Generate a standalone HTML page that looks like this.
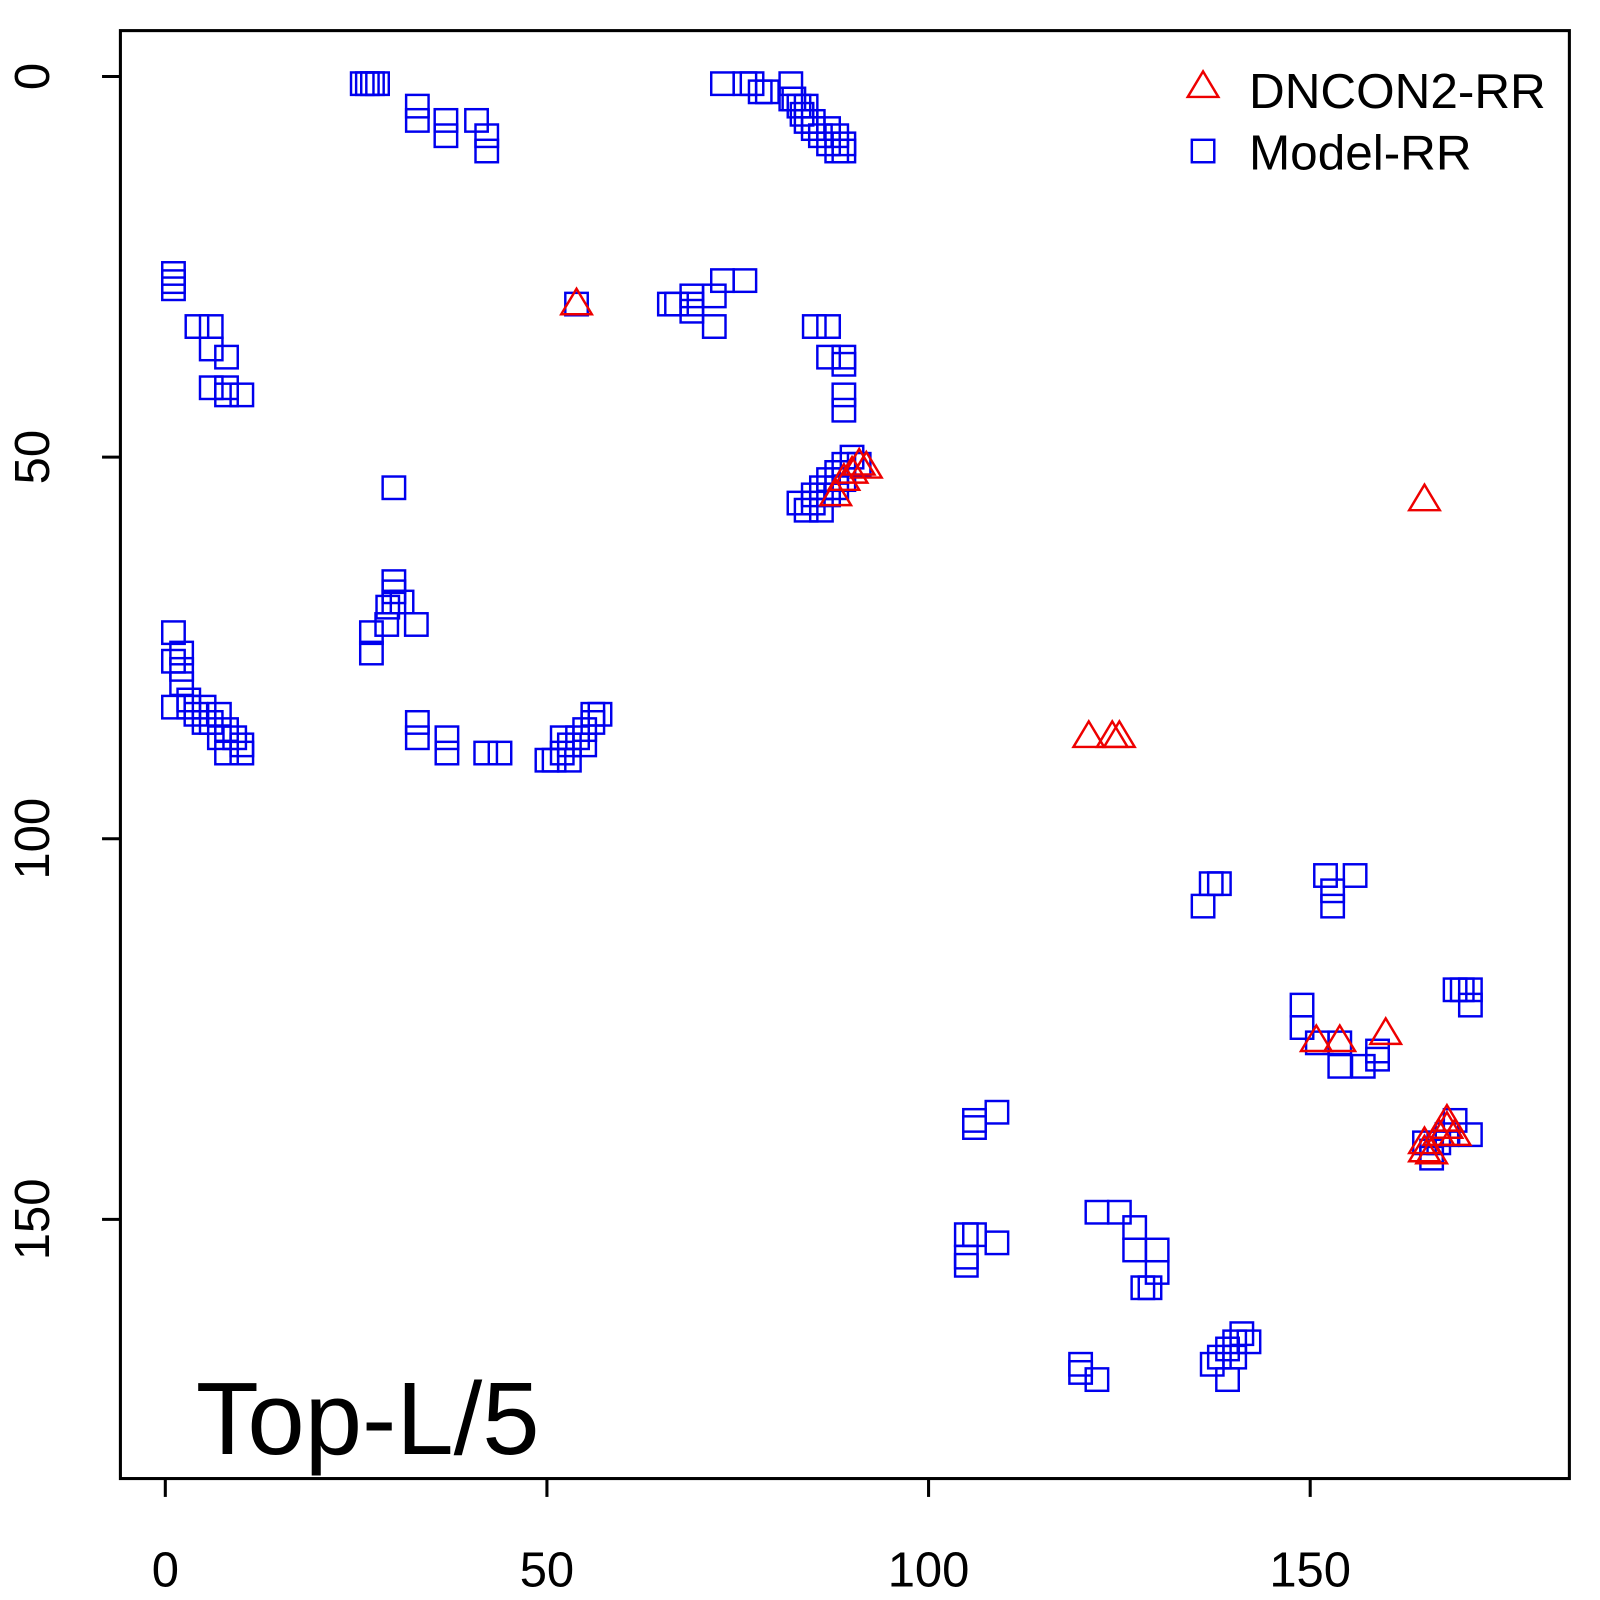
<!DOCTYPE html>
<html><head><meta charset="utf-8"><style>body{margin:0;background:#fff}svg{display:block}</style></head><body>
<svg width="1600" height="1600" xmlns="http://www.w3.org/2000/svg" font-family="Liberation Sans, sans-serif">
<g transform="scale(1.0204)">
<rect x="118" y="30" width="1420" height="1419" fill="none" stroke="#000" stroke-width="3"/>
<g stroke="#000" stroke-width="3">
<line x1="162" y1="1449" x2="162" y2="1467"/><line x1="536" y1="1449" x2="536" y2="1467"/><line x1="910" y1="1449" x2="910" y2="1467"/><line x1="1284" y1="1449" x2="1284" y2="1467"/>
<line x1="118" y1="75" x2="100" y2="75"/><line x1="118" y1="448" x2="100" y2="448"/><line x1="118" y1="822" x2="100" y2="822"/><line x1="118" y1="1195" x2="100" y2="1195"/>
</g>
<g font-size="48" text-anchor="middle">
<text x="162" y="1555">0</text><text x="536" y="1555">50</text><text x="910" y="1555">100</text><text x="1284" y="1555">150</text>
<text transform="translate(48,75) rotate(-90)">0</text>
<text transform="translate(48,448) rotate(-90)">50</text>
<text transform="translate(48,822) rotate(-90)">100</text>
<text transform="translate(48,1195) rotate(-90)">150</text>
</g>
<text x="192" y="1425" font-size="101">Top-L/5</text>
<text x="1224" y="106" font-size="48.5">DNCON2-RR</text>
<text x="1224" y="166" font-size="48.5">Model-RR</text>
<g id="sq" fill="none" stroke="#0000ee" stroke-width="2.4"></g>
<g id="tr" fill="none" stroke="#ee0000" stroke-width="2.4"></g>
</g>
</svg>
<script>
var S=[[1179,148],[355,82],[360,82],[365,82],[370,82],[409,104],[409,118],[437,118],[437,133],[467,118],[477,133],[477,148],
[708,82],[730,82],[737,82],[745,90],[752,90],[775,82],[778,97],[783,104],[786,112],[790,119],[797,126],[804,133],[812,141],[820,148],[827,141],[827,148],[775,97],[790,104],[797,119],[812,126],[820,133],
[170,268],[170,276],[170,283],[193,320],[207,320],[207,342],[222,350],[207,380],[222,387],[237,387],[222,380],
[565,298],[656,298],[663,298],[678,298],[678,305],[700,290],[700,320],[708,275],[730,275],[678,290],
[798,320],[812,320],[812,350],[827,350],[827,357],[827,387],[827,402],
[783,493],[790,500],[797,485],[805,478],[805,500],[812,470],[820,463],[827,455],[835,448],[842,455],[827,470],[812,485],[797,493],[820,478],
[386,478],
[170,620],[170,648],[178,640],[178,656],[178,670],[170,693],[185,686],[192,700],[200,693],[207,708],[215,700],[222,715],[230,723],[237,730],[237,738],[222,738],[215,723],[200,708],[185,693],
[364,620],[364,640],[386,570],[386,580],[386,590],[380,595],[394,590],[379,612],[408,612],
[409,708],[409,723],[438,723],[438,738],[476,738],[490,738],
[536,745],[543,745],[551,738],[558,730],[566,723],[573,715],[581,708],[588,700],[558,745],[551,723],[573,730],[581,700],
[1179,888],[1187,866],[1195,866],[1299,858],[1306,873],[1306,888],[1328,858],[1276,985],[1276,1007],[1291,1022],[1313,1022],[1313,1045],[1336,1045],[1350,1030],[1350,1038],
[1426,970],[1433,970],[1441,985],[1441,970],[1426,1098],[1441,1112],[1396,1120],[1403,1135],[1410,1120],[1418,1112],[1403,1128],
[955,1105],[977,1090],[955,1098],
[947,1210],[947,1232],[947,1240],[955,1210],[977,1218],[1075,1188],[1097,1188],[1112,1203],[1112,1225],[1134,1225],[1134,1247],[1120,1262],[1127,1262],
[1059,1337],[1059,1345],[1075,1352],[1188,1337],[1195,1330],[1203,1322],[1210,1315],[1217,1307],[1224,1315],[1203,1352],[1210,1330]];
var T=[[1179,85],[565,298],[819,485],[827,470],[835,463],[842,455],[849,458],[1396,490],[1067,722],[1090,722],[1097,722],[1290,1020],[1313,1020],[1358,1013],[1396,1120],[1403,1130],[1410,1112],[1418,1098],[1418,1105],[1426,1112],[1396,1128]];
var ns="http://www.w3.org/2000/svg",g=document.getElementById("sq");
S.forEach(function(p){var r=document.createElementNS(ns,"rect");r.setAttribute("x",p[0]-11);r.setAttribute("y",p[1]-11);r.setAttribute("width",22);r.setAttribute("height",22);g.appendChild(r);});
var t=document.getElementById("tr");
T.forEach(function(p){var r=document.createElementNS(ns,"polygon");var x=p[0],y=p[1];r.setAttribute("points",(x-15)+","+(y+10)+" "+(x+15)+","+(y+10)+" "+x+","+(y-15));t.appendChild(r);});
</script>
</body></html>
